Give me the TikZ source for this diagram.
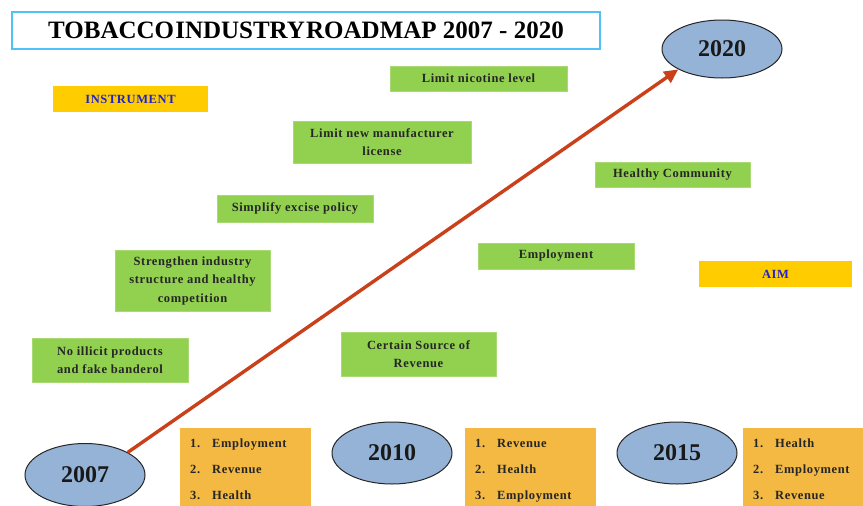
\documentclass[tikz,border=0pt]{standalone}
\usepackage{fontspec}
\setmainfont{Liberation Serif}
\newfontfamily\boxfont[LetterSpace=5]{Liberation Serif}
\usetikzlibrary{arrows.meta,shapes.geometric}
\definecolor{gbox}{HTML}{92D050}
\definecolor{ybox}{HTML}{FFCC00}
\definecolor{obox}{HTML}{F4B942}
\definecolor{ell}{HTML}{95B3D7}
\definecolor{arr}{HTML}{C9401A}
\definecolor{tblue}{HTML}{4FC3F7}
\definecolor{lblue}{HTML}{2222CC}
\tikzset{
  gnode/.style={fill=gbox, draw=gbox!80!white, line width=0.6pt, inner sep=2pt, align=center,
    font=\boxfont\bfseries\fontsize{12.5}{18.5}\selectfont, text=black!85},
  ynode/.style={fill=ybox, inner sep=2pt, align=center,
    font=\boxfont\bfseries\fontsize{12.5}{15}\selectfont, text=lblue},
  yearell/.style={ellipse, draw=black!85, fill=ell, line width=1pt, inner sep=0pt,
    font=\bfseries\fontsize{24}{28}\selectfont, text=black!90},
  listbox/.style={fill=obox, inner sep=0pt, anchor=north west},
  litem/.style={anchor=base west, inner sep=0pt, font=\boxfont\bfseries\fontsize{12.5}{15}\selectfont, text=black!85}
}
\begin{document}
\begin{tikzpicture}[x=1pt,y=-1pt]
\useasboundingbox (0,0) rectangle (863,506);
% title
\node[draw=tblue, line width=1.2pt, fill=white, minimum width=588pt, minimum height=37pt,
  font=\bfseries\fontsize{25}{28}\selectfont] (title) at (306,30.5) {{\spaceskip=1.2pt TOBACCO INDUSTRY ROADMAP} 2007 - 2020};
% labels
\node[ynode, minimum width=155pt, minimum height=26pt] (instr) at (130.5,99) {INSTRUMENT};
\node[ynode, minimum width=153pt, minimum height=26pt] (aim) at (775.5,274) {AIM};
% green boxes
\node[gnode, minimum width=177pt, minimum height=25pt] (nic) at (478.5,78.5) {Limit nicotine level};
\node[gnode, minimum width=178pt, minimum height=42pt] (lic) at (382,142) {Limit new manufacturer\\license};
\node[gnode, minimum width=155pt, minimum height=25pt] (hc) at (672.5,174.5) {Healthy Community};
\node[gnode, minimum width=156pt, minimum height=27pt] (exc) at (295,208.5) {Simplify excise policy};
\node[gnode, minimum width=155pt, minimum height=61pt] (str) at (192.5,280.5) {Strengthen industry\\structure and healthy\\competition};
\node[gnode, minimum width=156pt, minimum height=26pt] (emp) at (556,256) {Employment};
\node[gnode, minimum width=156pt, minimum height=44pt] (ill) at (110,360) {No illicit products\\and fake banderol};
\node[gnode, minimum width=155pt, minimum height=44pt] (rev) at (418.5,354) {Certain Source of\\Revenue};
% ellipses
\node[yearell, minimum width=120pt, minimum height=58pt] (y2020) at (722,49) {2020};
\node[yearell, minimum width=120pt, minimum height=63pt] (y2007) at (85,475) {2007};
\node[yearell, minimum width=120pt, minimum height=62pt] (y2010) at (392,453) {2010};
\node[yearell, minimum width=120pt, minimum height=62pt] (y2015) at (677,453) {2015};
% arrow
\draw[arr, line width=3.4pt, -{Triangle[length=14pt,width=13pt]}] (y2007.north east) -- (y2020.205);
% list boxes
\node[listbox, minimum width=131pt, minimum height=80pt] (l1) at (180,428) {};
\node[listbox, minimum width=131pt, minimum height=80pt] (l2) at (465,428) {};
\node[listbox, minimum width=122pt, minimum height=80pt] (l3) at (743,428) {};
\foreach \b/\x/\i/\j/\k in {l1/190/Employment/Revenue/Health, l2/475/Revenue/Health/Employment, l3/753/Health/Employment/Revenue}{
  \node[litem] (\b a) at (\x,447) {1.};
  \node[litem] at (\x+22,447) {\i};
  \node[litem] (\b b) at (\x,473.5) {2.};
  \node[litem] at (\x+22,473.5) {\j};
  \node[litem] (\b c) at (\x,499) {3.};
  \node[litem] at (\x+22,499) {\k};
}
\end{tikzpicture}
\end{document}
